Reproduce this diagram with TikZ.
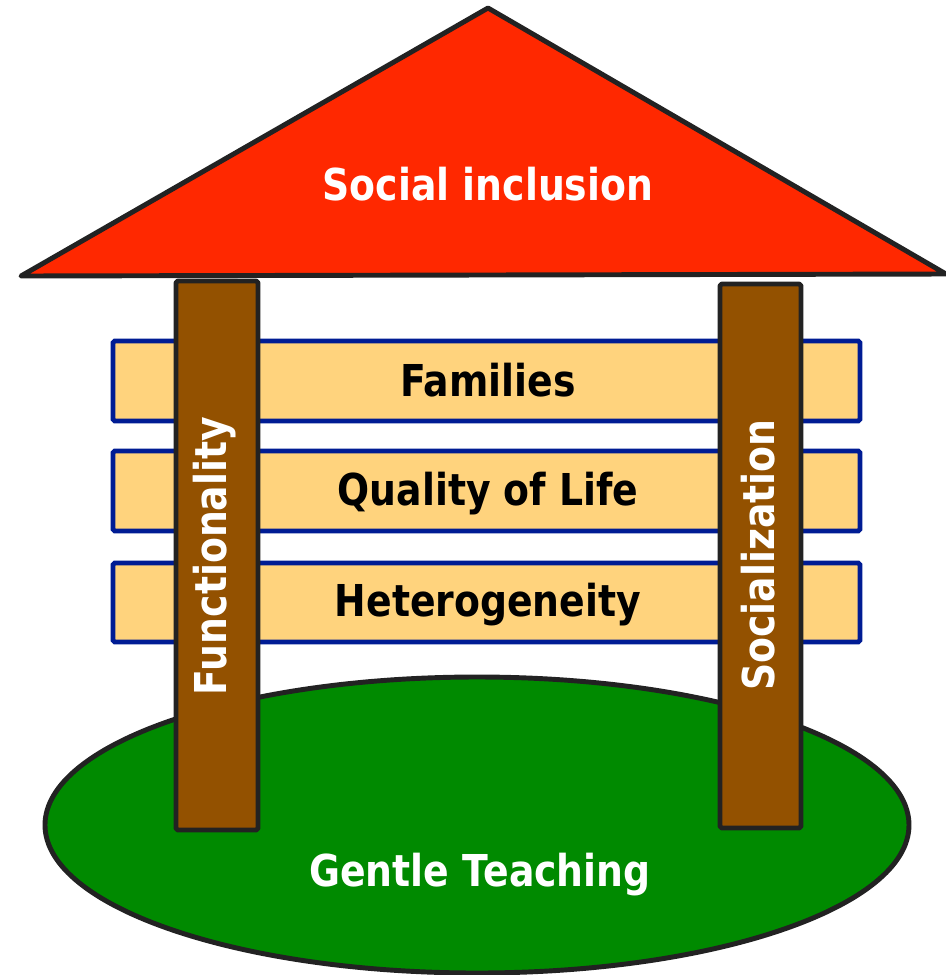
\documentclass[tikz,border=0pt]{standalone}
\usepackage{fontspec}
\setmainfont{DejaVu Sans}[FakeStretch=0.86]
\usetikzlibrary{positioning}

\definecolor{roofred}{HTML}{FF2800}
\definecolor{grassgreen}{HTML}{008A00}
\definecolor{woodbrown}{HTML}{935100}
\definecolor{plankfill}{HTML}{FFD37D}
\definecolor{planknavy}{HTML}{001C94}
\definecolor{edgegray}{HTML}{222222}

\tikzset{
  outline/.style={draw=edgegray,line width=2.8pt,line join=round},
  plank/.style={draw=planknavy,fill=plankfill,line width=2.7pt,rounded corners=1pt},
  pillar/.style={outline,fill=woodbrown,rounded corners=1pt},
  bigtext/.style={font=\bfseries\fontsize{25}{30}\selectfont,inner sep=0pt},
}

\begin{document}
\begin{tikzpicture}[x=0.02cm,y=-0.02cm]
  \useasboundingbox (0,0) rectangle (946,975);
  % ground
  \draw[outline,fill=grassgreen] (477,825) ellipse [x radius=432,y radius=148];
  \node[bigtext,text=white] (gentle) at (480,875) {Gentle Teaching};
  % planks
  \draw[plank] (113,341) rectangle (860,421);
  \draw[plank] (113,451) rectangle (860,531);
  \draw[plank] (113,563) rectangle (860,642);
  \node[bigtext] (families) at (488,380) {Families};
  \node[bigtext] (quality) at (488,494) {Quality of Life};
  \node[bigtext] (hetero) at (488,605) {Heterogeneity};
  % pillars
  \draw[pillar] (176,281) rectangle (258,830);
  \draw[pillar] (720,284) rectangle (801,828);
  \node[bigtext,text=white,rotate=90] (function) at (215,556) {Functionality};
  \node[bigtext,text=white,rotate=90] (social) at (758,555) {Socialization};
  % roof
  \draw[outline,fill=roofred] (488,8) -- (946,274) -- (21,276) -- cycle;
  \node[bigtext,text=white] (inclusion) at (488,184) {Social inclusion};
\end{tikzpicture}
\end{document}
